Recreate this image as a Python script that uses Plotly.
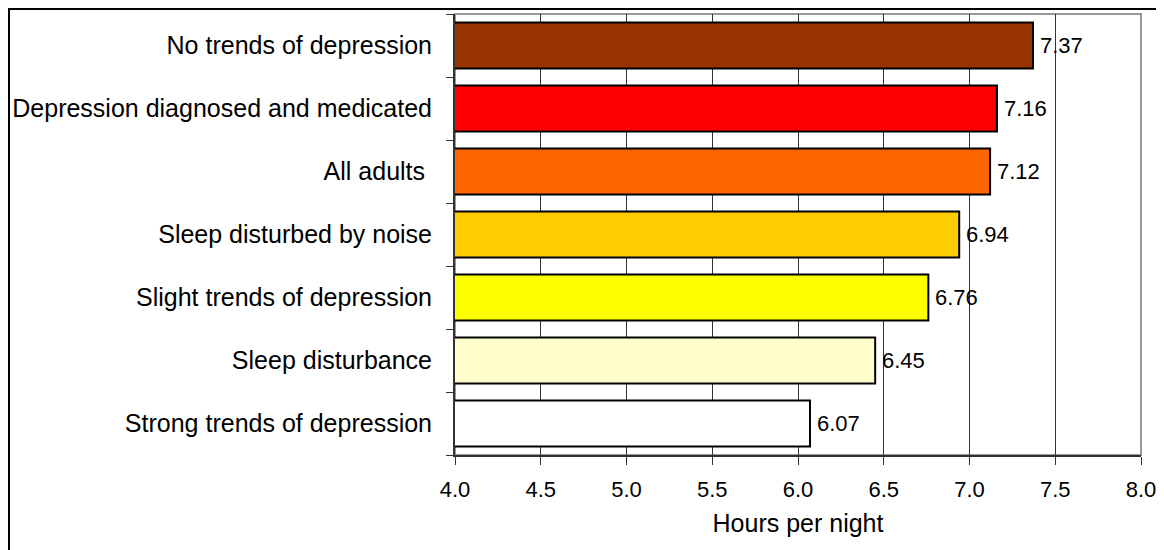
import plotly.graph_objects as go

categories = ["Strong trends of depression", "Sleep disturbance", "Slight trends of depression",
              "Sleep disturbed by noise", "All adults ", "Depression diagnosed and medicated",
              "No trends of depression"]
values = [6.07, 6.45, 6.76, 6.94, 7.12, 7.16, 7.37]
colors = ["#FFFFFF", "#FFFFCC", "#FFFF00", "#FFCC00", "#FF6600", "#FF0000", "#993300"]
x_ticks = [4.0, 4.5, 5.0, 5.5, 6.0, 6.5, 7.0, 7.5, 8.0]
x_title = "Hours per night"

font = "Arial, Liberation Sans, sans-serif"

# page body has an 8px margin, so the figure is sized/positioned to compensate
W, H = 1156, 542
L, R, T, B = 447, 23, 6, 95
PW, PH = W - L - R, H - T - B

fig = go.Figure()
fig.add_trace(go.Bar(
    y=categories, x=values, orientation="h",
    base=0,
    marker=dict(color=colors, line=dict(color="#000000", width=2)),
    width=0.73,
    showlegend=False,
))
# invisible trace to activate overlay axis for boundary ticks
fig.add_trace(go.Scatter(x=[4.0], y=[0], yaxis="y2", mode="markers",
                         marker=dict(opacity=0), showlegend=False, hoverinfo="skip"))

annotations = [
    dict(x=v, y=c, xref="x", yref="y", text=f"{v:.2f}", showarrow=False,
         xanchor="left", yanchor="middle", xshift=5,
         font=dict(family=font, size=22, color="#000000"))
    for c, v in zip(categories, values)
]

fig.update_layout(
    width=W, height=H,
    margin=dict(l=L, r=R, t=T, b=B, autoexpand=False),
    paper_bgcolor="white", plot_bgcolor="white",
    font=dict(family=font, size=22, color="#000000"),
    annotations=annotations,
    xaxis=dict(
        range=[4.0, 8.0], tickvals=x_ticks, ticktext=[f"{t:.1f}" for t in x_ticks],
        showgrid=True, gridcolor="#333333", gridwidth=1,
        ticks="outside", ticklen=8, tickcolor="#333333",
        showline=True, linecolor="#333333", linewidth=2,
        zeroline=False, automargin=False,
        tickfont=dict(size=22), ticklabelstandoff=6,
        title=dict(text=x_title, font=dict(size=25), standoff=13),
    ),
    yaxis=dict(
        type="category", categoryorder="array", categoryarray=categories,
        range=[-0.5, 6.5], automargin=False,
        ticks="", showline=True, linecolor="#333333", linewidth=2,
        tickfont=dict(size=25), ticklabelstandoff=16,
    ),
    yaxis2=dict(
        overlaying="y", side="left", range=[-0.5, 6.5], automargin=False,
        tickvals=[-0.5 + i for i in range(8)], showticklabels=False,
        ticks="outside", ticklen=8, tickcolor="#333333",
        showgrid=False, zeroline=False, showline=False,
    ),
    shapes=[
        dict(type="rect", xref="paper", yref="paper", x0=0, x1=1, y0=0, y1=1,
             line=dict(color="#999999", width=2), layer="below"),
        dict(type="rect", xref="paper", yref="paper",
             x0=(1 - L) / PW, x1=(1153 - L) / PW,
             y0=(PH + T - (H + 4)) / PH, y1=(PH + T - 1) / PH,
             line=dict(color="#000000", width=2), fillcolor="rgba(0,0,0,0)", layer="below"),
    ],
)

fig.write_html("out.html")
